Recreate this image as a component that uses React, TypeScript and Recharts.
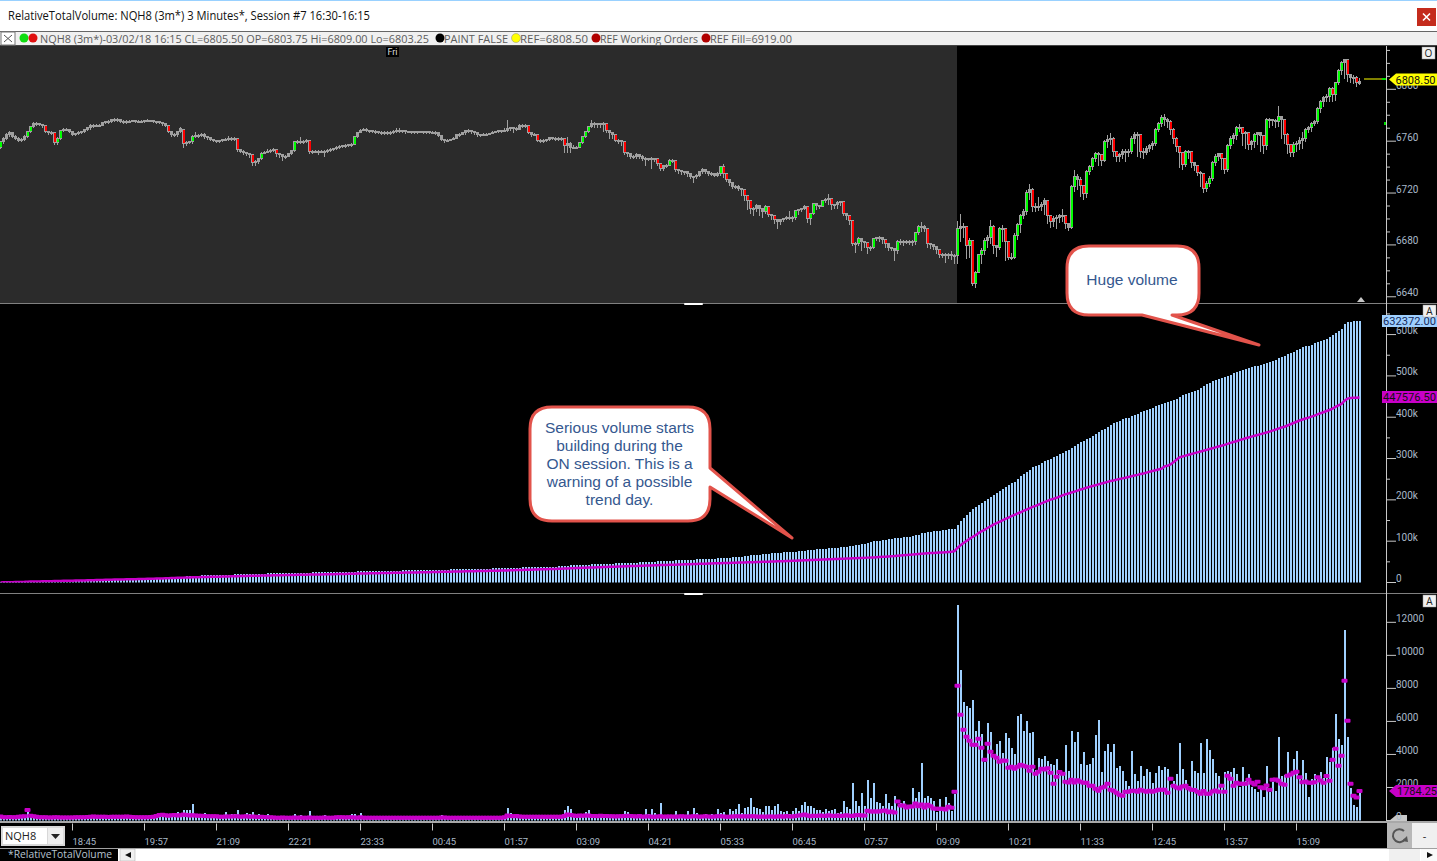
import { ComposedChart, Bar, Line, XAxis, YAxis } from 'recharts'

const timeLabels = ['18:45', '19:57', '21:09', '22:21', '23:33', '00:45', '01:57', '03:09', '04:21', '05:33', '06:45', '07:57', '09:09', '10:21', '11:33', '12:45', '13:57', '15:09']
const priceTicks = [6640, 6650, 6660, 6670, 6680, 6690, 6700, 6710, 6720, 6730, 6740, 6750, 6760, 6770, 6780, 6790, 6800, 6810, 6820, 6830]
const cumTicks = [0, 50000, 100000, 150000, 200000, 250000, 300000, 350000, 400000, 450000, 500000, 550000, 600000, 650000]
const volTicks = [0, 2000, 4000, 6000, 8000, 10000, 12000]

const closes = [
  6759,6762,6764.5,6766.5,6763.5,6762,6760.5,6761,6763.5,6767,
  6771,6773,6773,6772.5,6771.5,6767,6766,6766,6758.5,6762,
  6768,6768.5,6768.5,6767,6765,6765.5,6766.5,6767,6768.5,6770,
  6772,6772,6772,6772,6774,6774.5,6775,6776,6776.5,6776,
  6775,6774.5,6775,6775,6775.5,6775,6775,6775,6775.5,6775.5,
  6775.5,6775,6774.5,6774,6773,6772,6767,6765,6764.5,6767,
  6769.5,6758,6758.5,6759,6763.5,6764,6764,6765,6763,6762.5,
  6761,6760,6759.5,6760,6761,6761,6762,6762,6762,6753,
  6752,6751,6750,6749,6743,6744,6746,6750,6751,6752,
  6752.5,6753.5,6750,6749,6748,6748,6750,6752.5,6759,6759,
  6759.5,6759.5,6760,6751.5,6752,6752,6752,6752,6752,6752.5,
  6753,6754,6754.5,6755.5,6756,6756.5,6757,6757,6763,6766,
  6768,6769,6768,6767.5,6767,6767,6766.5,6766.5,6766,6766,
  6766.5,6767,6768,6768,6767.5,6767,6767,6767,6767,6767,
  6767,6767,6767,6766.5,6766.5,6766.5,6764,6761,6760,6760.5,
  6761,6762,6764.5,6765,6766,6768,6768,6767,6766,6765,
  6764.5,6765,6765,6765.5,6766.5,6767,6767.5,6767.5,6768,6769.5,
  6770,6769.5,6769,6772,6772,6771.5,6766,6765,6765,6760.5,
  6760,6760,6761,6762.5,6762,6762,6762,6762,6756,6758,
  6755,6755,6755,6758.5,6763,6767,6771,6773.5,6773,6773,
  6772.5,6773,6767.5,6766,6764.5,6760.5,6760,6759.5,6750.5,6750,
  6747.5,6747.5,6749,6748,6746,6746,6746,6746,6746,6742.5,
  6738.5,6741,6741,6745,6745,6737.5,6737,6736,6736,6734.5,
  6732,6732.5,6733,6736,6738,6736,6735,6735,6733.5,6735,
  6740,6734.5,6730,6728,6725,6725,6723,6722.5,6718,6714,
  6707.5,6708,6710,6708,6705,6709.5,6703,6702.5,6699,6697.5,
  6699,6700,6700.5,6700.5,6700.5,6706,6707,6707.5,6709,6700,
  6703.5,6711.5,6710,6709.5,6714,6715,6715.5,6711,6710.5,6712.5,
  6713,6704,6702,6698.5,6680.5,6680.5,6684.5,6682,6681.5,6678,
  6678,6684.5,6685,6685,6684,6680.5,6678,6677,6675.5,6682.5,
  6682.5,6682.5,6682.5,6682.5,6682.5,6689,6694,6694,6692,6680.5,
  6680,6678.5,6676,6672.5,6672.5,6672,6672,6671.5,6671.5,6692,
  6693.5,6693.5,6679,6683,6649.5,6658.5,6672,6675.5,6683,6685.5,
  6693.5,6679,6678,6692,6692,6682,6670,6670,6687,6695,
  6702,6705,6720,6722.5,6709,6709,6709.5,6711,6714,6702.5,
  6697.5,6700,6701,6702,6702.5,6696,6693,6724.5,6732,6730,
  6725.5,6719.5,6736,6740,6746.5,6750,6749,6744.5,6759.5,6761,
  6762,6751.5,6747.5,6749,6752,6750.5,6752,6762,6764.5,6764.5,
  6751.5,6751,6754,6756,6758,6768.5,6773.5,6777.5,6776,6774.5,
  6768.5,6762,6755.5,6751,6741.5,6751.5,6751.5,6743.5,6741,6735.5,
  6735,6723.5,6727,6731,6743.5,6748,6750,6746,6738,6756.5,
  6762,6764,6770,6770.5,6765.5,6766,6757,6759,6764.5,6766,
  6764,6756,6776,6776,6775.5,6774.5,6778.5,6776.5,6765,6757,
  6751,6757,6758,6760,6761.5,6768.5,6770,6773.5,6775,6784.5,
  6790,6793,6794,6800.5,6795.5,6805,6814.5,6820,6822.5,6811,
  6809,6809,6804.5,6805.5,
]

const opens = [
  6755,6759,6762,6764.5,6766,6763.5,6762,6761,6761,6763.5,
  6767,6771,6773,6773,6772.5,6771.5,6767,6766,6766,6758.5,
  6762,6768,6768.5,6768.5,6767,6765,6765.5,6766.5,6767,6768.5,
  6770,6772,6772,6772,6772,6774,6774.5,6775,6776,6776.5,
  6776,6775,6774.5,6775,6775,6775.5,6775,6775,6775,6775.5,
  6775.5,6775.5,6775,6774.5,6774,6773,6772,6767,6765,6764.5,
  6767,6769,6758,6758.5,6759,6763.5,6764,6764,6765,6763,
  6762.5,6761,6760,6759.5,6760,6761,6761,6762,6762,6762,
  6753,6752,6751,6750,6749,6743,6744,6746,6750,6751,
  6752,6752.5,6753.5,6750,6749,6748,6748,6750,6752.5,6759,
  6759,6759.5,6759.5,6760,6751.5,6752,6752,6752,6752,6752,
  6752.5,6753,6754,6754.5,6755.5,6756,6756.5,6757,6757,6763,
  6766,6768,6769,6768,6767.5,6767,6767,6766.5,6766.5,6766,
  6766,6766.5,6767,6768,6768,6767.5,6767,6767,6767,6767,
  6767,6767,6767,6767,6766.5,6766.5,6766.5,6764,6761,6760,
  6760.5,6761,6762,6764.5,6765,6766,6768,6768,6767,6766,
  6765,6764.5,6765,6765,6765.5,6766.5,6767,6767.5,6767.5,6768,
  6769.5,6770,6769.5,6769,6772,6772,6771.5,6766,6765,6765,
  6760.5,6760,6760,6761,6762.5,6762,6762,6762,6762,6756,
  6758,6755,6755,6755,6758.5,6763,6767,6771,6773.5,6773,
  6773,6772.5,6773,6767.5,6766,6764.5,6760.5,6760,6759.5,6750.5,
  6750,6747.5,6747.5,6749,6748,6746,6746,6746,6746,6746,
  6742.5,6738.5,6741,6741,6745,6745,6737.5,6737,6736,6736,
  6734.5,6732,6732.5,6733,6736,6738,6736,6735,6735,6733.5,
  6735,6740,6734.5,6730,6728,6725,6725,6723,6722.5,6718,
  6714,6707.5,6708,6710,6708,6705,6709.5,6703,6702.5,6699,
  6697.5,6699,6700,6700.5,6700.5,6700.5,6706,6707,6707.5,6709,
  6700,6703.5,6711.5,6710,6709.5,6714,6715,6715.5,6711,6710.5,
  6712.5,6713,6704,6702,6698.5,6680.5,6680.5,6684.5,6682,6681.5,
  6678,6678,6684.5,6685,6685,6684,6680.5,6678,6677,6675.5,
  6682.5,6682.5,6682.5,6682.5,6682.5,6682.5,6689,6694,6694,6692,
  6680.5,6680,6678.5,6676,6672.5,6672.5,6672,6672,6671.5,6671.5,
  6692,6693.5,6693.5,6679,6683,6649.5,6658.5,6672,6675.5,6683,
  6685.5,6693.5,6679,6678,6692,6692,6682,6670,6670,6687,
  6695,6702,6705,6720,6722.5,6709,6709,6709.5,6711,6714,
  6702.5,6697.5,6700,6701,6702,6702.5,6696,6693,6724.5,6732,
  6730,6725.5,6719.5,6736,6740,6746.5,6750,6749,6744.5,6759.5,
  6761,6762,6751.5,6747.5,6749,6752,6750.5,6752,6762,6764.5,
  6764.5,6751.5,6751,6754,6756,6758,6768.5,6773.5,6777.5,6776,
  6774.5,6768.5,6762,6755.5,6751,6741.5,6751.5,6751.5,6743.5,6741,
  6735.5,6735,6723.5,6727,6731,6743.5,6748,6750,6746,6738,
  6756.5,6762,6764,6770,6770.5,6765.5,6766,6757,6759,6764.5,
  6766,6764,6756,6776,6776,6775.5,6774.5,6778.5,6776.5,6765,
  6757,6751,6757,6758,6760,6761.5,6768.5,6770,6773.5,6775,
  6784.5,6790,6793,6794,6800.5,6795.5,6805,6814.5,6820,6822.5,
  6811,6809,6809,6803.75,
]

const highs = [
  6760,6763,6766,6767.5,6767,6764.5,6763,6762.5,6764.5,6768,
  6772,6774.5,6774.5,6774,6773,6772,6768,6767.5,6767,6763,
  6769,6770,6770,6769.5,6768,6766.5,6767.5,6768,6769.5,6771,
  6773,6773,6773,6773.5,6775,6775.5,6776,6777,6778,6777.5,
  6776.5,6776,6776,6776,6776.5,6776.5,6776,6776,6776.5,6777,
  6776.5,6776.5,6775.5,6775,6774.5,6773,6772,6768,6766,6768,
  6771,6769.5,6760.5,6760,6764.5,6767,6765.5,6766,6766,6764,
  6762.5,6761.5,6761,6761,6762,6762.5,6764,6763.5,6763.5,6762.5,
  6754,6753,6752,6751,6749.5,6745.5,6747,6751.5,6752.5,6754,
  6754,6755,6754,6750.5,6750,6749.5,6751,6753.5,6760,6761,
  6763,6761,6762,6760,6753.5,6753.5,6753,6753,6753,6754,
  6754.5,6755,6756,6757,6757,6757.5,6758,6758.5,6763.5,6767,
  6769.5,6770.5,6770,6769,6768.5,6768.5,6768,6767.5,6767.5,6767.5,
  6768,6768.5,6770,6770,6769,6768,6768,6768,6768,6768,
  6768,6768,6768,6767.5,6767.5,6767.5,6766.5,6764,6761,6761.5,
  6762,6763,6765,6766,6767,6769,6769.5,6769,6767.5,6766,
  6765.5,6766,6766,6766.5,6767.5,6768,6768.5,6769,6770,6776,
  6771,6771,6771,6773,6773.5,6773,6771.5,6766,6766,6765,
  6761.5,6761.5,6762,6763.5,6763.5,6763.5,6763,6763,6762,6763,
  6759,6757,6756,6759,6763.5,6767.5,6771.5,6776,6774.5,6774,
  6774,6774.5,6773,6768,6766,6764,6761.5,6761,6759.5,6752,
  6750,6749,6751,6750,6749,6747.5,6747,6747.5,6747,6746,
  6742.5,6742,6742.5,6746,6746.5,6745,6738,6737.5,6737,6736.5,
  6734.5,6733.5,6735,6737,6739,6738.5,6736,6736.5,6735,6736.5,
  6741,6742.5,6734.5,6730,6728,6726,6726,6723.5,6722.5,6718,
  6714,6709.5,6711.5,6710,6708,6710.5,6709.5,6703.5,6702.5,6699,
  6700,6701,6702,6706,6702,6707,6708,6708.5,6710.5,6709,
  6704.5,6712.5,6712,6710.5,6715,6716,6719,6716,6711.5,6714,
  6714,6713,6704,6702,6698.5,6682,6686,6685,6683,6682,
  6679.5,6685.5,6686,6686.5,6686,6684,6681,6678,6677,6683.5,
  6684.5,6683.5,6684,6683.5,6683.5,6690,6695,6698,6695,6692,
  6681,6680.5,6679,6676,6674,6674,6673.5,6675,6673,6698.5,
  6703.5,6697,6694,6685,6683,6660,6673,6678,6685,6688,
  6699,6695,6680,6694,6695,6692,6683,6674,6689,6697,
  6704,6708,6722,6727,6724,6712,6717,6713,6716,6714,
  6703,6702,6703,6704,6708,6703,6697,6726,6738,6735,
  6732,6726,6738,6742,6748,6752,6752,6750,6761,6765,
  6766,6763,6752,6751,6754,6754,6754,6764,6767,6767,
  6765,6755,6756,6758,6760,6770,6775,6780,6781,6778,
  6776,6770,6763,6756,6752,6753,6753,6752,6744,6741,
  6737,6735,6729,6733,6745,6750,6751,6751,6747,6758,
  6764,6766,6772,6773,6771,6768,6767,6761,6766,6767,
  6767,6765,6778,6778,6777,6777,6787,6779,6777,6766,
  6758,6759,6760,6763,6767,6770,6772,6775,6776,6786,
  6792,6795,6796,6802,6802,6806,6816,6822,6823,6822,
  6812,6811,6810,6809,
]

const lows = [
  6754,6758,6761,6763.5,6762.5,6761,6759,6759.5,6760,6762.5,
  6766,6770,6771.5,6771.5,6770.5,6766,6765,6764.5,6757,6757,
  6761,6767,6767.5,6766,6764,6764,6764.5,6765.5,6766,6767.5,
  6769,6770.5,6771,6771,6771.5,6773,6773.5,6774,6775,6775,
  6774,6773.5,6773.5,6774,6774.5,6774,6774,6774,6774,6774.5,
  6774.5,6774,6773,6773,6772,6771,6766,6763,6763,6763.5,
  6766,6755,6756,6757.5,6758,6762.5,6762.5,6763.5,6762,6761,
  6760,6759,6758.5,6758.5,6759.5,6760,6760.5,6760.5,6760.5,6752,
  6751,6749.5,6748.5,6747,6741,6741,6742.5,6745.5,6750,6750.5,
  6751,6751.5,6748,6747,6745,6746,6748,6749.5,6752,6757.5,
  6758,6758,6758.5,6750,6750,6750.5,6749.5,6750.5,6748,6751,
  6751.5,6752.5,6753,6754,6754.5,6755,6755.5,6755.5,6757,6762.5,
  6766,6767.5,6767,6766,6766,6765.5,6765.5,6765,6765,6764.5,
  6765,6765.5,6766,6766.5,6766,6765.5,6766,6765.5,6765.5,6765.5,
  6766,6765.5,6765.5,6765.5,6765.5,6765,6763.5,6760,6758.5,6759,
  6760,6761,6762,6763.5,6764.5,6765,6766.5,6765.5,6764.5,6763.5,
  6763,6764,6764,6764.5,6765.5,6766,6766.5,6766,6767,6767,
  6768,6766,6767.5,6768.5,6770.5,6770,6765.5,6763.5,6764,6759.5,
  6758.5,6758.5,6759.5,6760.5,6761,6760.5,6760.5,6760.5,6751,6750.8,
  6750.8,6754,6754,6754.5,6758,6762.5,6766.5,6770.5,6770.5,6770,
  6770,6767,6766,6762,6762,6759,6758,6756,6749,6748,
  6746,6746,6746,6746.5,6744.5,6740.7,6744.5,6738.7,6744,6741,
  6737,6737,6739.5,6740.5,6743.5,6736,6735,6734,6734,6732.5,
  6731,6728,6731,6732,6735,6735,6733.5,6733,6732,6732.5,
  6733,6731.5,6728.5,6725.5,6723,6723.5,6721.5,6718,6714,6707,
  6704,6702,6705,6702,6701,6704,6701.5,6699,6696,6692,
  6695,6698,6699,6699,6697.5,6699.5,6703,6705,6707,6697,
  6695.5,6703,6707,6708,6709,6712,6711,6707,6708,6708,
  6710,6702,6699,6695,6679,6674,6679,6675,6678,6673,
  6675,6677,6683,6682,6681,6678,6675,6675,6667.6,6673,
  6680,6679,6680.5,6680,6679,6680,6688,6690,6690,6678,
  6677,6676,6673,6670,6670,6666,6669,6668,6665,6665,
  6682,6685,6669,6670,6648,6646.4,6658,6665,6672,6678,
  6681,6673,6671,6676,6682,6667.6,6668,6668,6669,6684,
  6689,6700,6703,6715,6705,6705,6706,6706,6703,6696,
  6692.7,6694,6692,6697,6698,6692,6691,6692,6721,6722,
  6717,6715,6716,6734,6738,6744,6741,6741,6744,6755,
  6757,6748,6744,6744,6746,6744,6748,6750,6758,6748,
  6747,6746,6749,6752,6753,6756,6767,6771,6772,6770,
  6765,6758,6752,6739,6737.4,6740,6746,6739,6737,6733,
  6725,6720,6721,6725,6729,6741,6745,6738,6735,6736,
  6754,6758,6761,6767,6756,6754,6753,6753,6755,6757,
  6751.6,6750,6753,6770,6772,6770,6771,6762,6758,6750,
  6748,6747.7,6752,6752.9,6754,6759,6766,6767,6772,6773,
  6782,6786,6790,6790,6790,6791,6803,6811,6808,6806,
  6805,6804,6802,6803.25,
]

const cumVolumeK = [
  .3,.5,.7,.9,1.1,1.3,1.5,1.7,1.9,2.4,
  2.6,2.9,3.1,3.3,3.4,3.6,3.8,4,4.1,4.3,
  4.5,4.6,4.8,5,5.1,5.3,5.4,5.6,5.8,6,
  6.3,6.5,6.8,7,7.2,7.5,7.6,7.9,8.1,8.3,
  8.5,8.8,9,9.2,9.4,9.6,9.8,10,10.2,10.4,
  10.7,10.9,11.2,11.5,11.8,12.1,12.4,12.8,13.2,13.6,
  14,14.5,15,15.5,16.2,16.5,16.8,17.1,17.4,17.6,
  17.8,18,18.2,18.4,18.6,18.9,19.1,19.3,19.5,19.8,
  20,20.2,20.4,20.6,20.9,21,21.2,21.4,21.6,21.8,
  21.9,22,22.2,22.3,22.5,22.6,22.7,22.9,23.1,23.3,
  23.5,23.6,23.8,24.1,24.3,24.4,24.6,24.7,25,25.1,
  25.2,25.4,25.5,25.7,25.8,26,26.1,26.4,26.6,26.8,
  27.1,27.3,27.4,27.6,27.7,27.8,28,28.1,28.3,28.4,
  28.5,28.7,28.8,29,29.1,29.2,29.4,29.5,29.6,29.8,
  29.9,30,30.2,30.3,30.5,30.6,30.8,31,31.2,31.3,
  31.5,31.6,31.8,32,32.1,32.3,32.5,32.7,32.9,33,
  33.2,33.4,33.5,33.7,33.9,34,34.2,34.4,34.6,35.2,
  35.6,35.8,36.1,36.3,36.5,36.7,36.9,37,37.2,37.4,
  37.7,37.9,38.1,38.3,38.5,38.7,38.9,39.2,39.8,40.6,
  41.2,41.5,41.8,42.1,42.4,42.9,43.5,43.8,44,44.3,
  44.6,44.9,45.2,45.4,45.7,46,46.2,46.5,47,47.5,
  47.8,48.1,48.3,48.6,48.8,49.4,49.8,50.4,50.8,51.1,
  52,52.3,52.6,52.8,53,53.5,53.7,53.9,54.2,54.7,
  55,55.6,56,56.3,56.6,57,57.3,57.6,57.9,58.5,
  58.9,59.3,59.6,60.2,60.8,61.4,62.3,62.7,63.4,64.2,
  65.4,66.2,66.9,67.5,68,68.8,69.6,70.2,71,71.9,
  72.4,72.9,73.4,73.8,74.3,75,75.5,76.4,77.4,78.2,
  79,79.7,80.3,80.9,81.4,82,82.6,83.2,83.9,84.3,
  84.8,85.9,86.6,87.3,89.4,90.5,91.3,92.9,93.7,96,
  97.2,99.3,100.3,101.3,102.1,103.6,104.6,105.4,106.8,107.6,
  108.6,109.7,110.4,111.2,113,114.2,115.8,119,120.2,121.6,
  122.8,123.9,124.4,125.6,126.2,127.5,128.4,128.9,130.4,140,
  149,156,163,170,177,182.5,188.5,193.5,197,203,
  208,212,217,221.5,225.5,231,236,240,244,250,
  257,262,268,273,278.5,281.5,285,289,293,296,
  300,303,307,310,313,317.5,320.5,326,331,336,
  339.5,343.5,347,350.5,354,359,365,368,372,376.5,
  381,385,388,391,394.5,397,399,403,406,408.5,
  412,414.5,417.5,420.5,423,426,429,432,435,438,
  440,442.5,445,450,453,455.5,457.5,461,464,467,
  471.5,474.5,479.5,483.5,487,490,492.5,494.5,497.5,500.5,
  503,506,509,511,514,516.5,519,521,523,525,
  527,528.5,532,533.5,536,538,543,545.5,548,552,
  555,558.5,563,565.5,569,571.5,573,575.5,578.5,581,
  584,586.5,590,594,598,604,609,613.5,625,630,
  631.5,632,632,632.372,
]

const cumAverageK = [
  .2,.4,.5,.7,.9,1,1.2,1.4,1.6,2,
  2.2,2.4,2.6,2.7,2.9,3,3.2,3.3,3.5,3.7,
  3.8,4,4.1,4.3,4.4,4.6,4.7,4.9,5,5.2,
  5.4,5.6,5.8,6,6.2,6.4,6.6,6.8,7,7.1,
  7.2,7.4,7.6,7.8,7.9,8.1,8.2,8.4,8.6,8.8,
  9,9.2,9.4,9.6,9.9,10.1,10.4,10.6,10.9,11.2,
  11.5,11.8,12,12.2,12.5,12.7,12.9,13.1,13.3,13.5,
  13.7,13.9,14.1,14.2,14.4,14.6,14.8,15,15.2,15.4,
  15.6,15.8,16,16.1,16.3,16.5,16.6,16.8,17,17.1,
  17.2,17.4,17.5,17.7,17.8,18,18.1,18.2,18.4,18.5,
  18.7,18.8,18.9,19.1,19.2,19.4,19.5,19.6,19.8,19.9,
  20,20.2,20.3,20.5,20.7,20.8,21,21.2,21.3,21.5,
  21.7,21.8,22,22.1,22.3,22.4,22.6,22.7,22.9,23,
  23.2,23.3,23.5,23.6,23.8,23.9,24.1,24.2,24.4,24.5,
  24.7,24.8,25,25.1,25.3,25.5,25.6,25.8,26,26.1,
  26.3,26.4,26.6,26.7,26.9,27,27.2,27.3,27.5,27.6,
  27.8,27.9,28.1,28.2,28.4,28.5,28.7,28.8,29,29.3,
  29.6,29.8,30,30.3,30.5,30.7,30.9,31.1,31.4,31.6,
  31.8,32,32.2,32.4,32.7,32.9,33.1,33.3,33.6,34,
  34.3,34.6,34.9,35.2,35.5,35.8,36.1,36.3,36.6,36.9,
  37.2,37.4,37.7,37.9,38.2,38.4,38.7,38.9,39.2,39.5,
  39.7,40,40.2,40.5,40.7,40.9,41.2,41.4,41.6,41.9,
  42.1,42.3,42.6,42.8,43,43.2,43.5,43.7,44,44.2,
  44.4,44.7,44.9,45.1,45.4,45.6,45.8,46,46.3,46.5,
  46.8,47,47.2,47.4,47.7,47.9,48.2,48.4,48.6,48.9,
  49.1,49.3,49.6,49.8,50,50.2,50.5,50.7,50.9,51.2,
  51.4,51.7,51.9,52.2,52.4,52.7,53,53.3,53.7,54,
  54.3,54.5,54.8,55.1,55.4,55.7,56,56.3,56.6,56.9,
  57.2,57.5,57.8,58.1,58.4,58.7,59,59.3,59.6,60.2,
  60.4,60.8,61.3,61.7,62.1,62.6,63,63.5,63.9,64.8,
  65.4,66,66.6,67.2,67.7,68.4,68.9,69.5,70,70.6,
  71.1,71.6,72,72.5,72.9,73.3,73.8,74.3,75.8,83.5,
  90,95.5,100.5,105.5,110,114.5,119.5,124,127.5,132,
  136,140,143.5,147,150.5,154,157,160.5,163.5,167,
  170,173.5,176.5,179.5,183,185.5,188.5,191.5,194.5,197.5,
  200.5,202.5,205,208,211,213.5,215.5,218,220,222.5,
  225,227,229.5,231.5,233.5,235.5,237.5,239.5,241.5,243.5,
  245.5,247,249,250.5,252,253.5,255.5,257,259,260.5,
  262.5,264,266,268,270,271.5,273.5,275.5,281,282.5,
  286,291,297,303,305,307,309,311,313,315,
  317,319,321,323,325,327,329,331,333,335.5,
  338,340,342,344.5,346.5,349,351,353,355,357,
  359,361,363,365,367.5,370,372.5,375,377,380,
  383,386,389,392,394.5,397,399,401.5,404,407,
  409.5,412,415,417.5,421,425,428.5,432,440,445,
  446.5,447,447.2,447.576,
]

const volumes = [
  250,220,200,240,180,190,210,180,230,520,
  240,260,190,170,170,180,170,170,180,170,
  160,170,160,170,160,180,150,170,200,230,
  270,220,260,230,220,220,190,250,210,220,
  220,250,290,200,190,200,190,180,260,220,
  270,230,310,280,340,300,280,360,420,503,
  360,665,665,665,990,400,350,310,440,300,
  270,300,280,260,300,500,260,380,380,620,
  240,230,440,380,500,280,380,350,280,390,
  170,190,180,200,180,200,170,190,380,280,
  340,220,230,560,220,170,200,180,340,220,
  170,190,180,230,200,170,190,370,370,200,
  470,220,210,190,170,160,170,180,160,170,
  150,170,160,180,170,150,160,170,160,150,
  160,170,180,170,160,180,200,320,180,170,
  180,170,190,200,180,170,250,200,230,200,
  190,200,180,190,170,200,180,190,230,730,
  440,240,280,200,180,210,190,170,200,230,
  250,210,280,200,230,210,230,280,620,870,
  680,300,280,340,290,500,620,280,230,310,
  340,290,260,240,300,270,260,310,560,500,
  340,260,230,300,250,667,380,667,424,360,
  1030,360,360,250,250,565,200,230,260,565,
  300,727,424,280,330,380,300,380,260,667,
  424,505,280,667,585,667,970,424,727,808,
  1333,808,747,687,505,868,868,626,868,970,
  545,505,565,380,565,727,565,930,1090,868,
  868,727,626,626,505,687,565,626,687,445,
  505,1170,808,687,2260,1170,868,1656,868,2444,
  1333,2260,1110,1030,868,1575,1050,868,1474,860,
  1030,1170,808,868,1960,1333,1717,3474,1333,1474,
  1333,1170,505,1292,626,1414,1030,565,1595,13029,
  9090,7150,6950,6790,7270,5390,6000,5210,3535,5880,
  5330,3940,4605,4790,4060,5270,4970,4360,4000,6300,
  6420,5390,6000,5270,5330,3030,3760,3700,3880,3575,
  3450,3390,3700,3030,2830,4545,2970,5390,4725,5330,
  3450,4120,3390,3450,3760,5150,6060,2910,4180,4605,
  4120,4605,3150,3330,2970,2420,2060,4180,2790,2420,
  3330,2670,3090,2910,2300,2850,3270,3030,3210,3090,
  2120,2420,2790,4670,3090,2480,2060,3575,2970,2850,
  4670,2850,4910,4240,3700,2850,2670,2120,2910,2970,
  2910,3150,2790,2000,3210,2420,2790,2000,1880,1700,
  1880,1450,3330,1700,2360,1760,5030,2700,2730,4120,
  2790,3700,4180,2700,3640,2850,1450,2540,2800,2550,
  2910,2600,3820,3515,4420,6420,4910,4545,11510,5030,
  1940,910,790,1700,
]

const averages = [
  240,200,190,210,190,200,230,240,260,640,
  290,250,220,200,190,190,180,180,190,190,
  180,180,180,180,180,190,190,190,200,210,
  220,240,230,220,230,220,210,220,220,220,
  220,230,240,220,210,200,200,190,200,200,
  210,230,280,330,350,320,290,320,330,300,
  320,360,340,310,320,300,290,290,280,260,
  250,250,250,230,230,240,240,240,250,250,
  230,240,250,230,240,220,210,230,210,190,
  190,180,170,170,180,170,170,170,180,170,
  180,170,170,180,170,170,170,170,180,170,
  170,170,190,200,190,180,190,190,180,170,
  190,170,170,170,170,170,170,170,170,170,
  160,160,160,170,170,160,170,160,160,160,
  170,170,160,170,170,170,170,180,180,170,
  170,170,170,170,170,170,170,170,170,170,
  170,170,170,170,170,170,170,170,190,310,
  280,260,270,240,230,230,220,220,230,220,
  220,220,220,220,230,220,220,230,280,360,
  330,300,280,300,290,300,310,280,280,260,
  290,280,270,250,260,240,250,260,270,290,
  270,250,240,270,220,240,250,230,230,240,
  250,230,240,240,240,220,240,250,240,230,
  240,250,260,230,240,250,240,220,240,250,
  260,240,220,230,240,250,260,240,250,240,
  250,260,240,230,240,230,240,240,230,240,
  250,220,270,240,240,280,300,320,370,300,
  260,290,270,310,290,280,320,290,280,310,
  280,290,320,290,280,320,340,310,300,585,
  545,545,545,545,585,606,505,545,485,1150,
  910,910,790,850,850,1030,870,970,790,950,
  870,730,707,707,707,667,828,768,1737,8160,
  6400,5490,5070,4830,4585,4585,4950,4400,3680,4650,
  4160,3920,3800,3555,3640,3620,3190,3250,3130,3250,
  3370,3310,3250,3010,3250,2830,2950,3130,3090,3170,
  2890,2220,2650,2930,2830,2340,2300,2460,2300,2440,
  2340,2280,2280,2100,2100,1920,1800,1980,2040,2220,
  1860,1800,1680,1555,1495,1740,1740,1800,1800,1740,
  1860,1800,1740,1800,1740,1800,1860,1860,1860,1680,
  2525,2100,2000,1940,2060,2100,1960,1860,1840,1740,
  1615,1780,1615,1615,1760,1820,1740,2100,1740,2710,
  2525,2100,2280,2220,2220,2220,2465,2280,2180,2345,
  2020,1960,2120,1860,2465,2485,2400,2220,2160,2710,
  2790,2890,2950,2625,2320,2365,2280,2280,2320,2625,
  2420,2280,2690,2400,3680,4340,3310,3920,8460,6040,
  2220,1495,1390,1784.25,
]

// the last slots are empty: the time scale runs on past the last bar up to the axis
const slotCount = 462

const clock = (i: number) => {
  const mins = (17 * 60 + 33 + i * 3) % 1440
  return `${String(Math.floor(mins / 60)).padStart(2, '0')}:${String(mins % 60).padStart(2, '0')}`
}

const rows = Array.from({ length: slotCount }, (_, i) => ({
  time: clock(i),
  open: opens[i],
  close: closes[i],
  high: highs[i],
  low: lows[i],
  range: highs[i] === undefined ? undefined : [lows[i], highs[i]],
  cum: cumVolumeK[i] === undefined ? undefined : cumVolumeK[i] * 1000,
  cumAvg: cumAverageK[i] === undefined ? undefined : cumAverageK[i] * 1000,
  vol: volumes[i],
  avg: averages[i],
}))

const AXIS_TEXT = '#a9b9c9'
const BLUE = '#9fd0ff'
const MAGENTA = '#c800c8'
const WICK = '#a0a0a0'
const UI_FONT = '"Open Sans", "Noto Sans", sans-serif'
const NUM_FONT = 'Roboto, sans-serif'

const Candle = (props: any) => {
  const { x, y, height, payload: d } = props
  if (!d || d.open === undefined || !height) return <g />
  const k = height / (d.high - d.low)
  const cx = Math.round(x) + 1
  const top = y + (d.high - Math.max(d.open, d.close)) * k
  const h = Math.abs(d.close - d.open) * k
  const colour = d.close >= d.open ? '#00ff00' : '#ff0000'
  return (
    <g shapeRendering="crispEdges">
      <rect x={cx} y={y} width={1} height={height} fill={WICK} />
      <rect x={cx - 1} y={top - 1} width={3} height={Math.max(h, 1) + 1} fill={WICK} />
      {h >= 4 && <rect x={cx} y={top} width={2} height={h - 1} fill={colour} />}
    </g>
  )
}

const VolumeBar = (props: any) => {
  const { x, y, height } = props
  if (!height || height <= 0) return <g />
  return <rect x={Math.round(x + 0.01)} y={y} width={2} height={height} fill={BLUE} shapeRendering="crispEdges" />
}

const AvgDash = (props: any) => {
  const { cx, cy, index } = props
  if (cy === null || cy === undefined) return <g key={index} />
  return <rect key={index} x={cx - 3} y={cy - 2} width={6} height={4} rx={1} fill={MAGENTA} />
}

const axisTick = (isMajor: (v: number) => boolean, fmt: (v: number) => string) => (props: any) => {
  const { x, y, payload } = props
  const major = isMajor(payload.value)
  return (
    <g>
      <line x1={x + 2} x2={x + (major ? 11 : 5)} y1={y} y2={y} stroke="#c8c8c8" />
      {major && (
        <text x={x + 11} y={y - 4} dominantBaseline="central" fontFamily={NUM_FONT} fontSize={10} fill={AXIS_TEXT}>
          {fmt(payload.value)}
        </text>
      )}
    </g>
  )
}

const TimeTick = (props: any) => {
  const { x, y, payload } = props
  return (
    <g>
      <line x1={x} x2={x} y1={y + 3} y2={y + 10} stroke="#c8c8c8" />
      <text x={x} y={y + 24} fontFamily={NUM_FONT} fontSize={9.5} fill={AXIS_TEXT}>{payload.value}</text>
    </g>
  )
}

function Chrome() {
  const legend = { fontFamily: UI_FONT, fontSize: 11, fill: '#5c5c5c' }
  const tag = { fontFamily: NUM_FONT, fontSize: 11, fill: '#101010' }
  return (
    <svg width={1437} height={861} style={{ position: 'absolute', left: 0, top: 0 }}>
      <rect x={0} y={0} width={1437} height={31} fill="#fff" />
      <rect x={0} y={0} width={1437} height={1} fill="#99d1ff" />
      <text x={8} y={20} fontFamily={UI_FONT} fontSize={12} fill="#111" textLength={362} lengthAdjust="spacingAndGlyphs">
        RelativeTotalVolume: NQH8 (3m*) 3 Minutes*, Session #7 16:30-16:15
      </text>
      <rect x={1417} y={8} width={19} height={18} fill="#c42b1c" />
      <path d="M1423,13.5 L1430,20.5 M1430,13.5 L1423,20.5" stroke="#fff" strokeWidth={1.6} />

      <rect x={0} y={31} width={1437} height={14} fill="#f0f0f0" />
      <rect x={0} y={31} width={1437} height={1} fill="#666" />
      <rect x={0} y={45} width={1437} height={1} fill="#444" />
      <rect x={1} y={32} width={14} height={13} fill="#fff" stroke="#777" />
      <path d="M4,35 L12,42 M12,35 L4,42" stroke="#555" />
      <circle cx={24} cy={38} r={4.5} fill="#10dc10" />
      <circle cx={33} cy={38} r={4.5} fill="#e01010" />
      <text x={40} y={43} {...legend} textLength={389} lengthAdjust="spacingAndGlyphs">NQH8 (3m*)-03/02/18 16:15 CL=6805.50 OP=6803.75 Hi=6809.00 Lo=6803.25</text>
      <circle cx={440} cy={38} r={4.5} fill="#000" />
      <text x={444} y={43} {...legend} textLength={64} lengthAdjust="spacingAndGlyphs">PAINT FALSE</text>
      <circle cx={516} cy={38} r={4.5} fill="#ffff00" stroke="#888" strokeWidth={0.5} />
      <text x={520} y={43} {...legend} textLength={68} lengthAdjust="spacingAndGlyphs">REF=6808.50</text>
      <circle cx={596} cy={38} r={4.5} fill="#b00000" />
      <text x={600} y={43} {...legend} textLength={98} lengthAdjust="spacingAndGlyphs">REF Working Orders</text>
      <circle cx={706} cy={38} r={4.5} fill="#b00000" />
      <text x={710} y={43} {...legend} textLength={82} lengthAdjust="spacingAndGlyphs">REF Fill=6919.00</text>

      <rect x={386} y={47} width={13} height={10} fill="#000" />
      <text x={392.5} y={55} textAnchor="middle" fontFamily={NUM_FONT} fontSize={9} fill="#ddd">Fri</text>

      <rect x={0} y={303} width={1437} height={1} fill="#808080" />
      <rect x={0} y={593} width={1437} height={1} fill="#808080" />
      <rect x={684} y={303} width={19} height={2} rx={1} fill="#fff" />
      <rect x={684} y={593} width={19} height={2} rx={1} fill="#fff" />
      <rect x={1386} y={46} width={1} height={775} fill="#c8c8c8" />

      <path d="M1357,302 L1361,297 L1365,302 Z" fill="#c8c8c8" />
      <rect x={1364} y={78.5} width={22} height={1} fill="#ffff00" />
      <rect x={1382} y={78} width={4} height={2} fill="#00e000" />
      <rect x={1384} y={122} width={2} height={3} fill="#00e000" />
      <path d="M1389,79.5 L1396,73.5 H1437 V85.5 H1396 Z" fill="#ffff00" />
      <text x={1395.5} y={84} {...tag}>6808.50</text>

      <rect x={1382} y={315} width={55} height={12} fill={BLUE} />
      <text x={1383} y={325} {...tag} fill="#142a5c" textLength={53} lengthAdjust="spacingAndGlyphs">632372.00</text>
      <rect x={1382} y={391} width={55} height={12} fill={MAGENTA} />
      <text x={1383} y={401} {...tag} textLength={53} lengthAdjust="spacingAndGlyphs">447576.50</text>
      <path d="M1389,791 L1396,785 H1437 V797 H1396 Z" fill={MAGENTA} />
      <text x={1397} y={795} {...tag}>1784.25</text>

      {[[1422, 47, 'O'], [1423, 305, 'A'], [1423, 595, 'A']].map(([bx, by, label]) => (
        <g key={`${by}`}>
          <rect x={bx as number} y={by as number} width={13} height={12} fill="#f0f0f0" stroke="#999" strokeWidth={0.5} />
          <text x={(bx as number) + 6.5} y={(by as number) + 10} textAnchor="middle" fontFamily={UI_FONT} fontSize={10} fill="#222">{label}</text>
        </g>
      ))}

      <rect x={0} y={821} width={1437} height={2} fill="#a8a8a8" />
      <rect x={1387} y={823} width={50} height={25} fill="#f0f0f0" />
      <rect x={1387} y={823} width={25} height={25} fill="#b8b8b8" />
      <path d="M1404,831 A6.5,6.5 0 1 0 1405,839" fill="none" stroke="#555" strokeWidth={2} />
      <path d="M1402,841 L1408,842 L1407,836 Z" fill="#555" />
      <text x={1424.5} y={840} textAnchor="middle" fontFamily={UI_FONT} fontSize={11} fill="#222">-</text>

      <rect x={1} y={826} width={64} height={20} fill="#d8d8d8" />
      <rect x={3} y={828} width={44} height={16} fill="#fff" />
      <text x={5} y={840} fontFamily={UI_FONT} fontSize={11} fill="#222">NQH8</text>
      <rect x={48} y={828} width={15} height={16} fill="#eee" />
      <path d="M51,834 H60 L55.5,839 Z" fill="#222" />

      <rect x={0} y={848} width={1437} height={13} fill="#fff" />
      <rect x={0} y={848} width={1437} height={1} fill="#a0a0a0" />
      <rect x={0} y={849} width={118} height={12} fill="#000" />
      <text x={8} y={858} fontFamily={UI_FONT} fontSize={10} fill="#b8c4d0" textLength={104} lengthAdjust="spacingAndGlyphs">*RelativeTotalVolume</text>
      <rect x={120} y={849} width={15} height={12} fill="#f0f0f0" stroke="#aaa" strokeWidth={0.5} />
      <path d="M131,852 V858 L125,855 Z" fill="#111" />
      <rect x={1389} y={849} width={31} height={12} fill="#f0f0f0" />
      <rect x={1421} y={849} width={16} height={12} fill="#fafafa" />
      <path d="M1427,852 V858 L1433,855 Z" fill="#111" />
    </svg>
  )
}

function Callouts() {
  const text = { fontFamily: '"Liberation Sans", Arial, sans-serif', fontSize: 15.5, fill: '#35588f', textAnchor: 'middle' as const }
  const lines = ['Serious volume starts', 'building during the', 'ON session. This is a', 'warning of a possible', 'trend day.']
  return (
    <svg width={1437} height={861} style={{ position: 'absolute', left: 0, top: 0, pointerEvents: 'none' }}>
      <path
        d="M552,407 H688 Q710,407 710,429 V468 L792,538 L710,487 V499 Q710,521 688,521 H552 Q530,521 530,499 V429 Q530,407 552,407 Z"
        fill="#fff" stroke="#e2534b" strokeWidth={3} strokeLinejoin="round"
      />
      {lines.map((line, i) => (
        <text key={line} x={619.5} y={433 + i * 18} {...text}>{line}</text>
      ))}
      <path
        d="M1089,246 H1177 Q1199,246 1199,268 V293 Q1199,315 1177,315 H1172 L1259,345 L1142,315 H1089 Q1067,315 1067,293 V268 Q1067,246 1089,246 Z"
        fill="#fff" stroke="#e2534b" strokeWidth={3} strokeLinejoin="round"
      />
      <text x={1132} y={285} {...text}>Huge volume</text>
    </svg>
  )
}

export default function App() {
  const chartBox = (top: number): React.CSSProperties => ({ position: 'absolute', left: -1, top })
  return (
    <div style={{ position: 'absolute', left: 0, top: 0, width: 1437, height: 861, overflow: 'hidden', background: '#000' }}>
      <div style={{ position: 'absolute', left: 0, top: 46, width: 957, height: 257, background: '#2b2b2b' }} />
      <div style={{ position: 'absolute', left: 1389, top: 815, width: 18, height: 6, background: '#c8c8c8', clipPath: 'polygon(0 100%, 40% 0, 100% 0, 100% 100%)' }} />

      <div style={chartBox(46)}>
        <ComposedChart width={1438} height={257} data={rows} margin={{ top: 0, right: 0, bottom: 0, left: 0 }} barCategoryGap={0} barGap={0}>
          <XAxis dataKey="time" hide />
          <YAxis
            orientation="right" width={52} domain={[6635.2, 6833.4]} allowDataOverflow ticks={priceTicks} interval={0}
            axisLine={false} tickLine={false} tickSize={0} tickMargin={0}
            tick={axisTick((v) => v % 40 === 0, (v) => String(v))}
          />
          <Bar dataKey="range" shape={Candle} isAnimationActive={false} />
        </ComposedChart>
      </div>

      <div style={chartBox(304)}>
        <ComposedChart width={1438} height={278.5} data={rows} margin={{ top: 0, right: 0, bottom: 0, left: 0 }} barCategoryGap={0} barGap={0}>
          <XAxis dataKey="time" hide />
          <YAxis
            orientation="right" width={52} domain={[0, 674000]} allowDataOverflow ticks={cumTicks} interval={0}
            axisLine={false} tickLine={false} tickSize={0} tickMargin={0}
            tick={axisTick((v) => v % 100000 === 0, (v) => (v === 0 ? '0' : `${v / 1000}k`))}
          />
          <Bar dataKey="cum" barSize={2} shape={VolumeBar} isAnimationActive={false} />
          <Line dataKey="cumAvg" type="linear" stroke={MAGENTA} strokeWidth={2.5} dot={false} isAnimationActive={false} />
        </ComposedChart>
      </div>

      <div style={chartBox(594)}>
        <ComposedChart width={1438} height={257} data={rows} margin={{ top: 0, right: 0, bottom: 0, left: 0 }} barCategoryGap={0} barGap={0}>
          <XAxis
            dataKey="time" height={30.5} ticks={timeLabels} interval={0} axisLine={false} tickLine={false}
            tickSize={0} tickMargin={0} tick={TimeTick}
          />
          <YAxis
            orientation="right" width={52} domain={[0, 13715]} allowDataOverflow ticks={volTicks} interval={0}
            axisLine={false} tickLine={false} tickSize={0} tickMargin={0}
            tick={axisTick(() => true, (v) => String(v))}
          />
          <Bar dataKey="vol" barSize={2} shape={VolumeBar} isAnimationActive={false} />
          <Line dataKey="avg" stroke="none" dot={AvgDash} activeDot={false} isAnimationActive={false} />
        </ComposedChart>
      </div>

      <Chrome />
      <Callouts />
    </div>
  )
}
